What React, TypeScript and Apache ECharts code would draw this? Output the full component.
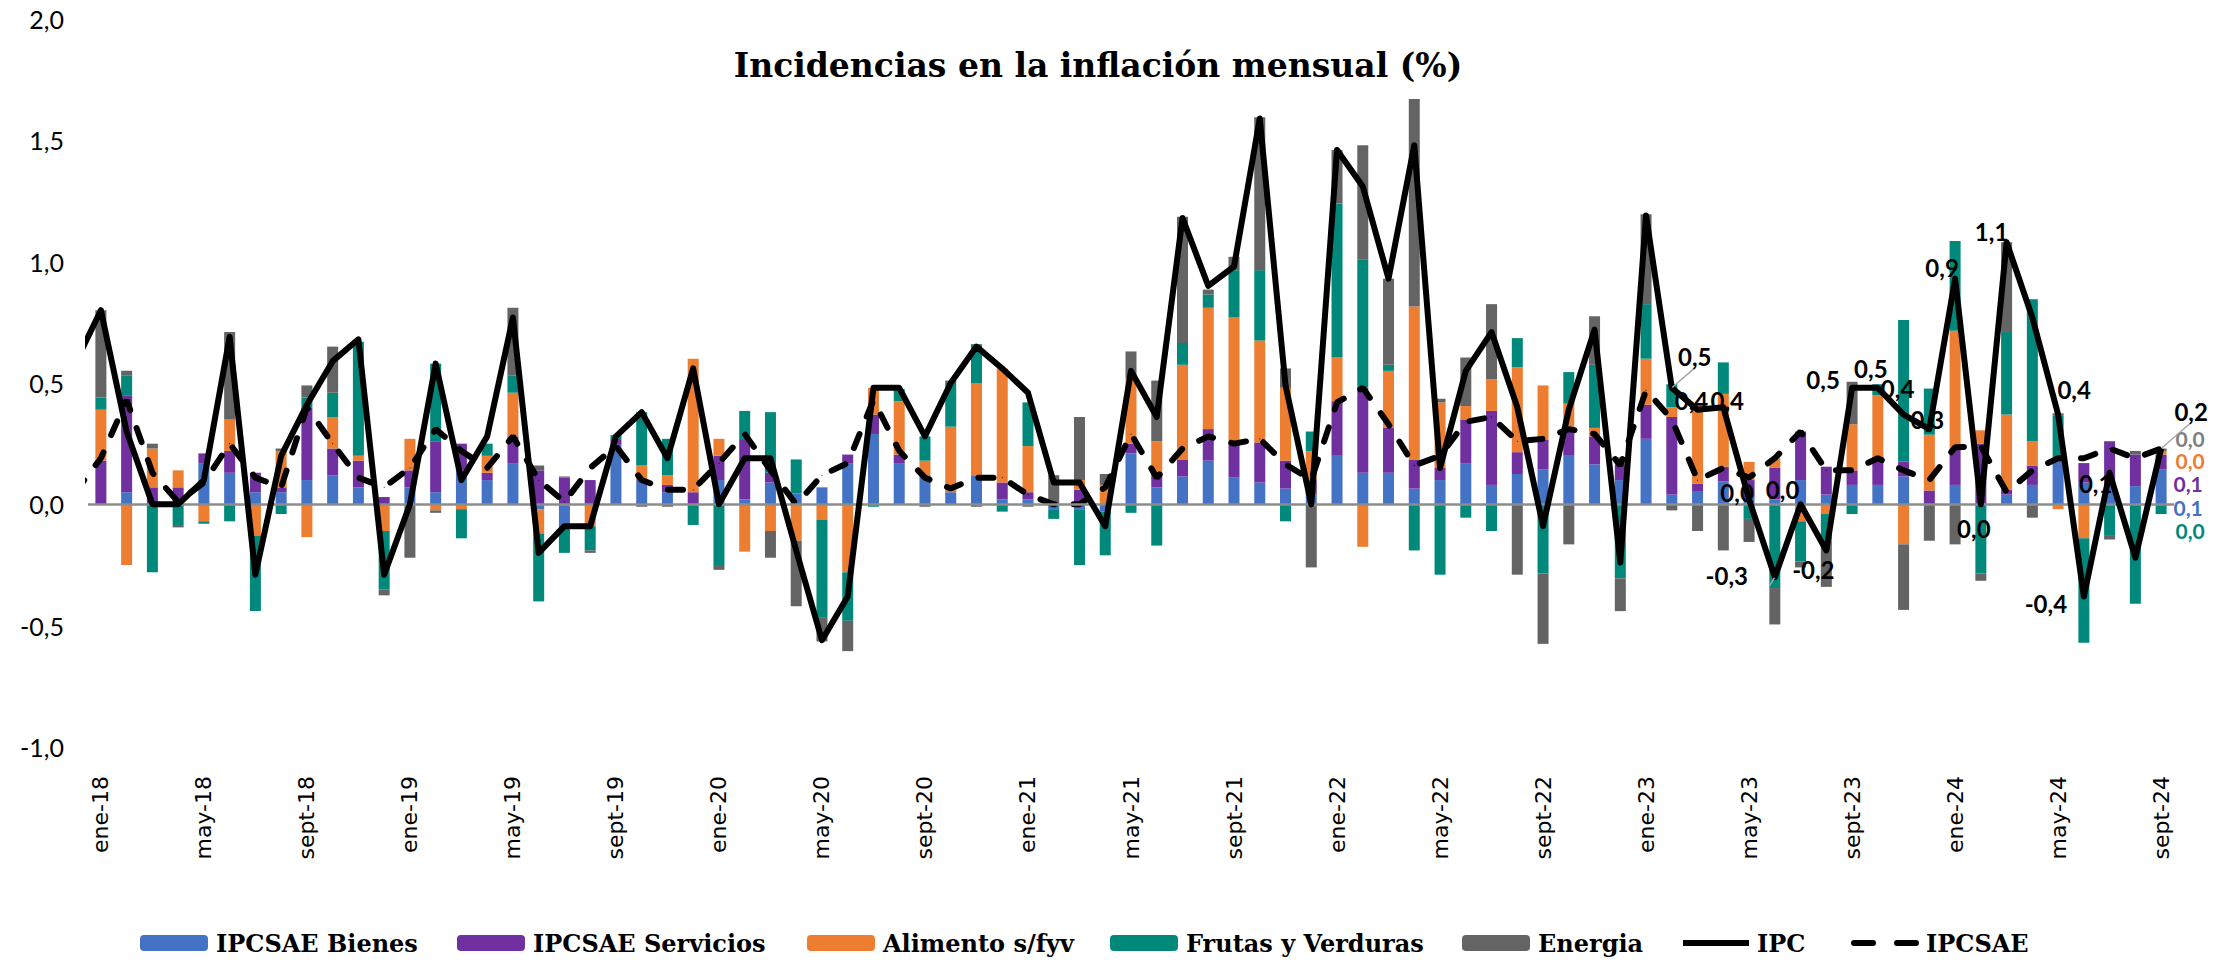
import React, { useEffect, useRef } from "react";
import * as echarts from "echarts";

// ---------- categories ----------
const MONTH_ABBR = ["ene", "feb", "mar", "abr", "may", "jun", "jul", "ago", "sept", "oct", "nov", "dic"];
const YEARS = ["18", "19", "20", "21", "22", "23", "24"];
const categories: string[] = [];
YEARS.forEach((y) => MONTH_ABBR.forEach((m) => categories.push(`${m}-${y}`)));
const months = categories.slice(0, 81); // ene-18 .. sept-24

// ---------- series values (incidencias, pp) ----------
const bienes = [
  0.0, 0.05, 0.0, 0.0, 0.17, 0.13, 0.05, 0.05, 0.1, 0.12, 0.07, 0.0,
  0.07, 0.05, 0.14, 0.1, 0.17, -0.02, -0.1, 0.0, 0.245, 0.1, 0.05, 0.0,
  0.1, 0.02, 0.09, 0.045, 0.07, 0.17, 0.29, 0.17, 0.12, 0.05, 0.12, 0.02,
  0.02, -0.02, -0.02, -0.03, 0.21, 0.07, 0.115, 0.18, 0.11, 0.09, 0.065, 0.04,
  0.2, 0.13, 0.13, 0.065, 0.1, 0.17, 0.08, 0.125, 0.145, 0.2, 0.165, 0.1,
  0.27, 0.04, 0.055, 0.095, 0.03, 0.02, 0.1, 0.04, 0.08, 0.08, 0.115, 0.0,
  0.08, 0.0, 0.04, 0.08, 0.175, 0.09, 0.09, 0.075, 0.145,
];
const servicios = [
  0.18, 0.4, 0.07, 0.07, 0.04, 0.09, 0.08, 0.02, 0.3, 0.11, 0.11, 0.03,
  0.07, 0.21, 0.11, 0.03, 0.11, 0.14, 0.11, 0.1, 0.02, 0.0, 0.03, 0.05,
  0.1, 0.245, 0.04, 0.0, 0.0, 0.035, 0.08, 0.035, 0.0, 0.0, 0.0, 0.07,
  0.03, 0.0, 0.06, 0.0, 0.04, 0.065, 0.07, 0.13, 0.135, 0.165, 0.115, 0.06,
  0.225, 0.35, 0.185, 0.12, 0.05, 0.18, 0.305, 0.09, 0.12, 0.12, 0.115, 0.065,
  0.14, 0.32, 0.03, 0.06, 0.07, 0.13, 0.2, 0.115, 0.06, 0.115, 0.06, 0.057,
  0.15, 0.25, 0.02, 0.08, 0.0, 0.08, 0.17, 0.13, 0.06,
];
const alimentos = [
  0.21, -0.25, 0.16, 0.07, -0.07, 0.13, -0.13, 0.15, -0.135, 0.13, 0.02, -0.11,
  0.13, -0.025, -0.02, 0.07, 0.18, -0.1, 0.0, -0.09, 0.0, 0.06, 0.04, 0.55,
  0.07, -0.195, -0.11, -0.15, -0.065, -0.28, 0.11, 0.22, 0.06, 0.27, 0.38, 0.47,
  0.19, 0.0, 0.04, 0.08, 0.27, 0.125, 0.39, 0.5, 0.525, 0.42, 0.3, 0.12,
  0.18, -0.175, 0.235, 0.63, 0.27, 0.055, 0.13, 0.35, 0.225, 0.095, 0.035, 0.03,
  0.19, 0.04, 0.33, 0.3, 0.075, 0.04, -0.07, -0.04, 0.19, 0.255, -0.165, 0.23,
  0.485, 0.055, 0.31, 0.1, -0.02, -0.14, 0.0, 0.0, 0.015,
];
const frutas = [
  0.05, 0.08, -0.28, -0.085, -0.01, -0.07, -0.31, -0.04, 0.04, 0.1, 0.47, -0.24,
  0.0, 0.32, -0.12, 0.05, 0.07, -0.28, -0.1, -0.1, 0.02, 0.22, 0.15, -0.085,
  -0.25, 0.12, 0.25, 0.14, -0.4, -0.2, -0.01, 0.05, 0.1, 0.18, 0.16, -0.03,
  0.18, -0.04, -0.23, -0.18, -0.035, -0.17, 0.09, 0.055, 0.195, 0.29, -0.07, 0.08,
  0.635, 0.53, 0.025, -0.19, -0.29, -0.055, -0.11, 0.12, -0.285, 0.13, 0.26, -0.305,
  0.225, 0.095, 0.0, 0.13, -0.06, -0.345, -0.165, -0.11, -0.04, 0.045, 0.585, 0.19,
  0.37, -0.285, 0.34, 0.585, 0.19, -0.43, -0.13, -0.41, -0.04,
];
const energia = [
  0.36, 0.02, 0.02, -0.01, 0.0, 0.36, 0.0, 0.01, 0.05, 0.19, 0.0, -0.025,
  -0.22, -0.01, 0.0, 0.0, 0.28, 0.02, 0.005, -0.01, 0.0, -0.01, -0.01, 0.0,
  -0.02, 0.0, -0.11, -0.27, -0.1, -0.125, 0.0, 0.0, -0.01, 0.01, -0.01, 0.0,
  -0.01, 0.12, 0.26, 0.045, 0.11, 0.25, 0.52, 0.02, 0.055, 0.63, 0.08, -0.26,
  0.22, 0.47, 0.355, 0.855, 0.015, 0.2, 0.31, -0.29, -0.29, -0.165, 0.2, -0.135,
  0.37, -0.025, -0.11, -0.19, -0.095, -0.15, -0.025, -0.19, 0.175, 0.0, -0.27, -0.15,
  -0.165, -0.03, 0.37, -0.055, 0.01, 0.0, -0.015, 0.015, 0.01,
];
// IPC and IPCSAE monthly variation (%); the previous month (dic-17) is partly visible at the left edge
const ipcDic17 = 0.58;
const ipc = [
  0.8, 0.3, 0.0, 0.0, 0.1, 0.69, -0.29, 0.2, 0.41, 0.59, 0.68, -0.29,
  0.0, 0.58, 0.1, 0.28, 0.77, -0.2, -0.09, -0.09, 0.28, 0.38, 0.19, 0.56,
  0.0, 0.19, 0.19, -0.19, -0.56, -0.38, 0.48, 0.48, 0.28, 0.5, 0.65, 0.56,
  0.46, 0.09, 0.09, -0.09, 0.55, 0.36, 1.18, 0.9, 0.98, 1.59, 0.49, 0.0,
  1.46, 1.31, 0.93, 1.48, 0.15, 0.55, 0.71, 0.4, -0.09, 0.39, 0.72, -0.24,
  1.19, 0.48, 0.39, 0.4, 0.02, -0.3, 0.0, -0.19, 0.48, 0.48, 0.37, 0.31,
  0.93, 0.0, 1.08, 0.77, 0.37, -0.38, 0.13, -0.22, 0.23,
];
const ipcsaeDic17 = 0.05;
const ipcsae = [
  0.19, 0.43, 0.13, 0.01, 0.09, 0.25, 0.11, 0.07, 0.4, 0.25, 0.11, 0.07,
  0.15, 0.31, 0.22, 0.15, 0.28, 0.1, 0.01, 0.15, 0.24, 0.1, 0.06, 0.06,
  0.17, 0.29, 0.14, 0.0, 0.12, 0.17, 0.43, 0.22, 0.11, 0.065, 0.11, 0.11,
  0.04, 0.0, 0.0, 0.07, 0.29, 0.11, 0.23, 0.28, 0.25, 0.27, 0.165, 0.1,
  0.42, 0.48, 0.33, 0.16, 0.2, 0.34, 0.36, 0.26, 0.27, 0.31, 0.29, 0.16,
  0.47, 0.35, 0.1, 0.15, 0.11, 0.19, 0.3, 0.14, 0.14, 0.19, 0.14, 0.1,
  0.235, 0.24, 0.05, 0.14, 0.19, 0.19, 0.23, 0.19, 0.23,
];

// y-axis ticks
const yTicks = { min: -1, max: 2, interval: 0.5 };

// ---------- styling ----------
const C_BLUE = "#4472C4";
const C_PURPLE = "#7030A0";
const C_ORANGE = "#ED7D31";
const C_TEAL = "#00897B";
const C_GRAY = "#646464";

// IPC data-label placement (month index -> [dx, dy] from the point)
const ipcLabelOffsets: Record<number, number[]> = {
  61: [23, -31], 62: [-6, -9], 63: [4, -7], 64: [-12, -7], 65: [-48, -2],
  66: [-18, -15], 67: [-13, 19], 68: [-29, -8], 69: [-7, -19], 70: [-6, -26],
  71: [-2, -10], 72: [-13, -11], 73: [-7, 24], 74: [-15, -11], 76: [16, -25],
  77: [-38, 7], 78: [-14, 11], 80: [30, -37],
};
const ipcLeaderLines = [61, 65, 80];

const fmt = (v: number) => {
  const r = Math.round(v * 10) / 10;
  return (Math.abs(r) < 0.05 ? 0 : r).toFixed(1).replace(".", ",");
};

const LABEL_FONT = { fontSize: 24, fontWeight: "bold" as const, fontFamily: "Lato" };

function buildOption() {
  const barDefs = [
    { name: "IPCSAE Bienes", data: bienes, color: C_BLUE, labelColor: C_BLUE, off: [27, 21] },
    { name: "IPCSAE Servicios", data: servicios, color: C_PURPLE, labelColor: C_PURPLE, off: [27, 22] },
    { name: "Alimento s/fyv", data: alimentos, color: C_ORANGE, labelColor: C_ORANGE, off: [29, 8] },
    { name: "Frutas y Verduras", data: frutas, color: C_TEAL, labelColor: C_TEAL, off: [29, 21] },
    { name: "Energia", data: energia, color: C_GRAY, labelColor: "#7F7F7F", off: [29, -11] },
  ];

  const barSeries = barDefs.map((d, k) => ({
    name: d.name,
    type: "bar",
    stack: "incidencias",
    stackStrategy: "samesign",
    xAxisIndex: 0,
    yAxisIndex: 0,
    barWidth: 11,
    itemStyle: { color: d.color },
    data: d.data.map((v, i) =>
      i === d.data.length - 1
        ? {
            value: v,
            label: {
              show: true,
              position: "inside",
              offset: d.off,
              color: d.labelColor,
              fontSize: 21,
              fontWeight: "bold",
              fontFamily: "Lato",
              lineHeight: 16,
              formatter: (p: any) => fmt(p.value),
            },
          }
        : v
    ),
    ...(k === 0
      ? {
          markLine: {
            silent: true,
            symbol: "none",
            label: { show: false },
            lineStyle: { color: "#8C8C8C", width: 2.5, type: "solid" },
            data: [{ yAxis: 0 }],
          },
        }
      : {}),
  }));

  const ipcData: any[] = [[-1, ipcDic17]];
  ipc.forEach((v, i) => {
    const off = ipcLabelOffsets[i];
    if (off) {
      ipcData.push({
        value: [i, v],
        label: {
          show: true,
          position: "inside",
          offset: off,
          color: "#000",
          ...LABEL_FONT,
          lineHeight: 22,
          formatter: (p: any) => fmt(p.value[1]),
        },
        labelLine: ipcLeaderLines.includes(i)
          ? { show: true, lineStyle: { color: "#A6A6A6", width: 1.5 } }
          : { show: false },
      });
    } else {
      ipcData.push([i, v]);
    }
  });
  const ipcsaeData: any[] = [[-1, ipcsaeDic17], ...ipcsae.map((v, i) => [i, v])];

  const lineSeries = [
    {
      name: "IPCSAE",
      type: "line",
      xAxisIndex: 1,
      yAxisIndex: 0,
      data: ipcsaeData,
      symbol: "circle",
      symbolSize: 1,
      itemStyle: { color: "#000" },
      lineStyle: { color: "#000", width: 6, type: [15, 19], cap: "round" },
      clip: true,
      z: 4,
    },
    {
      name: "IPC",
      type: "line",
      xAxisIndex: 1,
      yAxisIndex: 0,
      data: ipcData,
      symbol: "circle",
      symbolSize: 1,
      itemStyle: { color: "#000" },
      lineStyle: { color: "#000", width: 6, join: "round" },
      clip: true,
      z: 5,
    },
  ];

  const legendText = { fontFamily: "DejaVu Serif", fontWeight: "bold" as const, fontSize: 24, color: "#000", padding: [0, 0, 0, 3] };
  const legendItems: any[] = [
    { data: [{ name: "IPCSAE Bienes" }], left: 140, itemWidth: 68 },
    { data: [{ name: "IPCSAE Servicios" }], left: 457, itemWidth: 68 },
    { data: [{ name: "Alimento s/fyv" }], left: 807, itemWidth: 68 },
    { data: [{ name: "Frutas y Verduras" }], left: 1110, itemWidth: 68 },
    { data: [{ name: "Energia" }], left: 1462, itemWidth: 68 },
    {
      data: [{ name: "IPC", itemStyle: { opacity: 0 }, lineStyle: { width: 6, color: "#000" } }],
      left: 1680,
      itemWidth: 66,
    },
    {
      data: [
        {
          name: "IPCSAE",
          itemStyle: { opacity: 0 },
          lineStyle: { width: 6, color: "#000", type: [19, 24], cap: "round" },
        },
      ],
      left: 1851,
      itemWidth: 64,
    },
  ];
  const legend = legendItems.map((l) => ({
    ...l,
    top: 931,
    itemHeight: 16,
    padding: 0,
    itemGap: 0,
    selectedMode: false,
    textStyle: legendText,
  }));

  return {
    animation: false,
    backgroundColor: "#fff",
    title: {
      text: "Incidencias en la inflación mensual (%)",
      left: 1093,
      top: 44,
      textAlign: "center",
      textStyle: { fontFamily: "DejaVu Serif", fontWeight: "bold", fontSize: 33, color: "#000" },
    },
    legend,
    grid: { left: 88, right: 60, top: 19, bottom: 217, containLabel: false },
    xAxis: [
      {
        type: "category",
        data: months,
        boundaryGap: true,
        position: "bottom",
        axisLine: { show: false },
        axisTick: { show: false },
        splitLine: { show: false },
        axisLabel: {
          interval: 3,
          rotate: 90,
          margin: 29,
          fontFamily: "DejaVu Sans",
          fontSize: 22,
          color: "#000",
        },
      },
      {
        type: "value",
        min: -0.5,
        max: 80.5,
        show: false,
      },
    ],
    yAxis: {
      type: "value",
      min: yTicks.min,
      max: yTicks.max,
      interval: yTicks.interval,
      axisLine: { show: false },
      axisTick: { show: false },
      splitLine: { show: false },
      axisLabel: {
        margin: 24,
        fontFamily: "Lato",
        fontSize: 25,
        color: "#000",
        formatter: (v: number) => v.toFixed(1).replace(".", ","),
      },
    },
    series: [...barSeries, ...lineSeries],
  };
}

export default function App() {
  const ref = useRef<HTMLDivElement>(null);
  useEffect(() => {
    document.body.style.margin = "0";
    if (!ref.current) return;
    const chart = echarts.init(ref.current, null, { renderer: "svg" });
    chart.setOption(buildOption() as any);
    return () => chart.dispose();
  }, []);
  return <div ref={ref} style={{ width: 2234, height: 964, background: "#fff" }} />;
}
